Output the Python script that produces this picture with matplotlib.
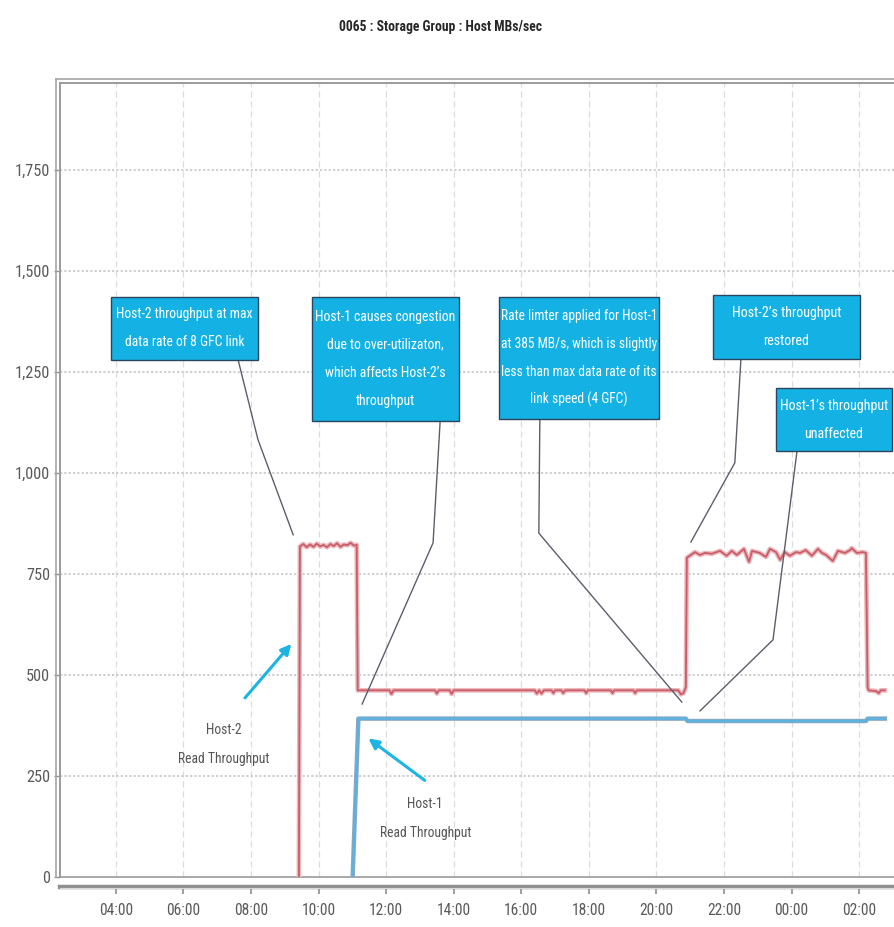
import matplotlib
matplotlib.use("Agg")
import matplotlib.pyplot as plt
from matplotlib import font_manager as fm
from matplotlib.patches import Rectangle
from matplotlib.lines import Line2D
from matplotlib.ticker import FixedLocator, FuncFormatter

# prefer a condensed sans face when one is installed
_names = {f.name for f in fm.fontManager.ttflist}
_narrow = next((n for n in ("Liberation Sans Narrow", "Arial Narrow",
                            "Roboto Condensed", "Open Sans Condensed") if n in _names), None)
plt.rcParams["font.family"] = [_narrow or "Liberation Sans", "DejaVu Sans"]

# ---- data (hours since midnight of day 1, MB/s) ----
host2_hours = [9.42, 9.45, 9.55, 9.65, 9.75, 9.85, 9.95, 10.05, 10.15, 10.25, 10.35,
               10.45, 10.55, 10.65, 10.75, 10.85, 10.95, 11.05, 11.13,
               11.16, 12.10, 12.16, 12.22, 13.45, 13.50, 13.56, 13.88, 13.94, 14.00,
               16.40, 16.46, 16.53, 16.60, 16.67, 16.90, 16.95, 17.00, 17.19, 17.24,
               17.30, 17.87, 17.92, 17.97, 18.65, 18.70, 18.75, 19.32, 19.37, 19.42,
               20.65, 20.72, 20.80, 20.87,
               20.90, 21.14, 21.29, 21.44, 21.64, 21.88, 22.08, 22.23, 22.38, 22.59,
               22.74, 22.83, 23.06, 23.24, 23.36, 23.54, 23.66, 23.80, 23.95, 24.13,
               24.25, 24.42, 24.60, 24.78, 24.90, 25.02, 25.22, 25.37, 25.58, 25.73,
               25.78, 25.93, 26.11, 26.20,
               26.25, 26.28, 26.50, 26.58, 26.64, 26.76]
host2_mbps = [0, 818, 824, 816, 823, 817, 825, 818, 822, 816, 824,
              819, 826, 817, 823, 821, 827, 820, 822,
              462, 462, 453, 462, 462, 454, 462, 462, 453, 462,
              462, 454, 462, 454, 462, 462, 455, 462, 462, 455,
              462, 462, 455, 462, 462, 455, 462, 462, 455, 462,
              462, 452, 455, 470,
              790, 804, 797, 802, 800, 807, 795, 807, 797, 812,
              780, 807, 802, 792, 812, 804, 785, 804, 795, 804,
              802, 809, 795, 812, 802, 797, 782, 807, 802, 809,
              814, 802, 804, 802,
              470, 462, 460, 455, 462, 462]

host1_hours = [11.01, 11.18, 20.87, 20.92, 26.20, 26.25, 26.76]
host1_mbps = [0, 392, 392, 386, 386, 392, 392]

hour_ticks = [4, 6, 8, 10, 12, 14, 16, 18, 20, 22, 24, 26]
hour_labels = ["04:00", "06:00", "08:00", "10:00", "12:00", "14:00", "16:00",
               "18:00", "20:00", "22:00", "00:00", "02:00"]
value_ticks = [0, 250, 500, 750, 1000, 1250, 1500, 1750]

title_text = "0065 : Storage Group : Host MBs/sec"

# callout boxes: (t0, t1, v0, v1, lines, widest line in px)
callouts = [
    (3.86, 8.21, 1280, 1436, ["Host-2 throughput at max", "data rate of 8 GFC link"], 137),
    (9.81, 14.16, 1129, 1436, ["Host-1 causes congestion", "due to over-utilizaton,",
                               "which affects Host-2\u2019s", "throughput"], 140),
    (15.34, 20.07, 1134, 1436, ["Rate limter applied for Host-1", "at 385 MB/s, which is slightly",
                                "less than max data rate of its", "link speed (4 GFC)"], 156),
    (21.67, 26.02, 1282, 1441, ["Host-2\u2019s throughput", "restored"], 109),
    (23.54, 26.97, 1054, 1210, ["Host-1\u2019s throughput", "unaffected"], 108),
]
# leader lines from each callout to the curves
leaders = [
    ([7.62, 8.21, 9.25], [1280, 1082, 847]),
    ([13.60, 13.39, 11.29], [1129, 827, 428]),
    ([16.55, 16.52, 20.75], [1134, 851, 433]),
    ([22.50, 22.32, 21.02], [1282, 1025, 829]),
    ([24.16, 23.45, 21.29], [1054, 587, 411]),
]
# series labels: (arrow tail, arrow head, text centre, lines)
series_labels = [
    ((7.77, 438), (9.25, 582), (7.20, 328), ["Host-2", "Read Throughput"]),
    ((13.21, 235), (11.41, 347), (13.16, 146), ["Host-1", "Read Throughput"]),
]

# ---- figure ----
W, H = 895, 927
fig = plt.figure(figsize=(W / 100, H / 100), dpi=100)
ax = fig.add_axes([60 / W, 50 / H, 835 / W, 794 / H])
ax.set_xlim(2.35, 27.06)
ax.set_ylim(0, 1965)
px_per_unit = (794 / 1965)          # vertical pixels per MB/s
line_gap = 28 / px_per_unit         # baseline spacing of stacked text lines

# grid
ax.xaxis.set_major_locator(FixedLocator(hour_ticks))
ax.yaxis.set_major_locator(FixedLocator(value_ticks))
for t in hour_ticks:
    ax.axvline(t, color="#dcdcdc", lw=0.9, ls=(0, (5, 3)), zorder=0)
for v in value_ticks[1:]:
    ax.axhline(v, color="#c9c9c9", lw=1.3, ls=(0, (1.2, 1.2)), zorder=0)

# series
ax.plot(host2_hours, host2_mbps, color="#ebb8bc", lw=3.4, solid_joinstyle="round", zorder=3)
ax.plot(host2_hours, host2_mbps, color="#c95c68", lw=1.3, solid_joinstyle="round", zorder=4)
ax.plot(host1_hours, host1_mbps, color="#8aa9c0", lw=3.2, zorder=3)
ax.plot(host1_hours, host1_mbps, color="#5bb1e0", lw=1.7, zorder=4)

# spines
ax.spines["right"].set_visible(False)
for s in ("left", "top"):
    ax.spines[s].set_color("#9b9b9b")
    ax.spines[s].set_linewidth(1.4)
ax.spines["bottom"].set_position(("outward", 7.5))
ax.spines["bottom"].set_color("#8f8f8f")
ax.spines["bottom"].set_linewidth(3.2)
ax.axhline(0, color="#a8a8a8", lw=1.4, clip_on=False, zorder=2)

# outer frame lines (double border)
fig.add_artist(Line2D([56 / W, 56 / W], [50 / H, (H - 79) / H], color="#a5a5a5", lw=1.2))
fig.add_artist(Line2D([56 / W, 1.0], [(H - 79) / H, (H - 79) / H], color="#a5a5a5", lw=1.2))
fig.add_artist(Line2D([60 / W, 1.0], [(H - 887.5) / H, (H - 887.5) / H], color="#d8d8d8", lw=0.8))

# ticks
ax.set_xticklabels(hour_labels)
ax.yaxis.set_major_formatter(FuncFormatter(lambda v, p: f"{int(v):,}"))
ax.tick_params(axis="x", direction="out", length=5, width=1.2, color="#8f8f8f",
               labelsize=12, labelcolor="#5a5a5a", pad=6)
ax.tick_params(axis="y", direction="out", length=4, width=1.0, color="#8f8f8f",
               labelsize=12, labelcolor="#5a5a5a", pad=3)

# title
title = fig.text(441 / W, (H - 27) / H, title_text, ha="center", va="center",
                 fontsize=10, fontweight="bold", color="#262626")

# callouts
box_texts = []
for t0, t1, v0, v1, lines, width_px in callouts:
    ax.add_patch(Rectangle((t0, v0), t1 - t0, v1 - v0, facecolor="#14b2e4",
                           edgecolor="#2b4560", lw=1.0, zorder=6))
    cy = (v0 + v1) / 2
    n = len(lines)
    arts = [ax.text((t0 + t1) / 2, cy + ((n - 1) / 2 - i) * line_gap, ln,
                    ha="center", va="center", color="white", fontsize=10, zorder=7)
            for i, ln in enumerate(lines)]
    box_texts.append((arts, width_px))
for xs, ys in leaders:
    ax.plot(xs, ys, color="#5a5f6b", lw=1.0, zorder=5)

# series labels with arrows
label_texts = []
for tail, head, centre, lines in series_labels:
    ax.annotate("", xy=head, xytext=tail,
                arrowprops=dict(arrowstyle="-|>,head_length=0.6,head_width=0.3",
                                color="#1cb4e2", lw=2.2), zorder=6)
    n = len(lines)
    arts = [ax.text(centre[0], centre[1] + ((n - 1) / 2 - i) * (29 / px_per_unit), ln,
                    ha="center", va="center", fontsize=10, color="#555555")
            for i, ln in enumerate(lines)]
    label_texts.append((arts, 92))

# size text so each block spans its intended width
fig.canvas.draw()
r = fig.canvas.get_renderer()


def fit(arts, width_px):
    w = max(a.get_window_extent(r).width for a in arts)
    for a in arts:
        a.set_fontsize(a.get_fontsize() * width_px / w)


fit([title], 203)
for arts, wpx in box_texts + label_texts:
    fit(arts, wpx)
ylab = [t for t in ax.get_yticklabels() if t.get_text() == "1,750"]
xlab = [t for t in ax.get_xticklabels() if t.get_text() == "04:00"]
if ylab:
    ax.tick_params(axis="y", labelsize=12 * 35 / ylab[0].get_window_extent(r).width)
if xlab:
    ax.tick_params(axis="x", labelsize=12 * 34 / xlab[0].get_window_extent(r).width)

fig.savefig("out.png", dpi=100, facecolor="white")
